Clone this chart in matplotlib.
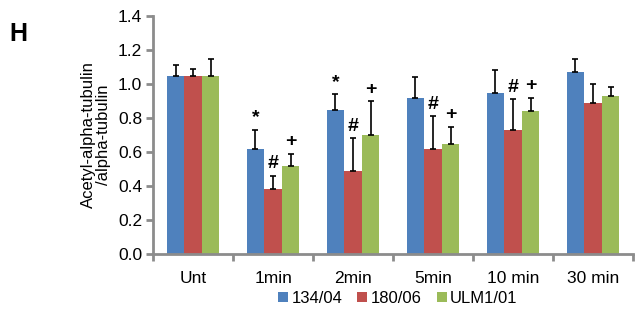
import numpy as np
import matplotlib
matplotlib.use('Agg')
import matplotlib.pyplot as plt

plt.rcParams['font.family'] = ['Liberation Sans', 'DejaVu Sans']

# ─── Data ────────────────────────────────────────────────────────────────────
categories = ['Unt', '1min', '2min', '5min', '10 min', '30 min']
series     = ['134/04', '180/06', 'ULM1/01']

mean_134 = [1.05, 0.62, 0.85, 0.92, 0.95, 1.07]
mean_180 = [1.05, 0.38, 0.49, 0.62, 0.73, 0.89]
mean_ulm = [1.05, 0.52, 0.70, 0.65, 0.84, 0.93]

err_134 = [0.06, 0.11, 0.09, 0.12, 0.13, 0.08]
err_180 = [0.04, 0.08, 0.19, 0.19, 0.18, 0.11]
err_ulm = [0.10, 0.07, 0.20, 0.10, 0.08, 0.05]

# significance marks per group (series 0/1/2)
marks_134 = ['', '*', '*', '', '', '']
marks_180 = ['', '#', '#', '#', '#', '']
marks_ulm = ['', '+', '+', '+', '+', '']

colors = ['#4F81BD', '#C0504D', '#9BBB59']

# ─── Plot ─────────────────────────────────────────────────────────────────────
fig = plt.figure(figsize=(6.38, 3.2), dpi=100)
ax = fig.add_axes([0.240, 0.206, 0.752, 0.744])

x = np.arange(len(categories))
w = 0.22
means = [mean_134, mean_180, mean_ulm]
errs = [err_134, err_180, err_ulm]
marks = [marks_134, marks_180, marks_ulm]

for k in range(3):
    xs = x + (k - 1) * w
    ax.bar(xs, means[k], width=w, color=colors[k], label=series[k], zorder=2)
    ax.errorbar(xs, means[k], yerr=[np.zeros(len(x)), errs[k]], fmt='none',
                ecolor='black', elinewidth=1.2, capsize=2.5, capthick=1.2, zorder=3)
    for i in range(len(x)):
        if marks[k][i]:
            ax.text(xs[i], means[k][i] + errs[k][i] + 0.02, marks[k][i],
                    ha='center', va='bottom', fontsize=14, fontweight='bold',
                    color='black')

ax.set_xlim(-0.5, len(categories) - 0.5)
ax.set_ylim(0, 1.4)
ax.set_yticks(np.arange(0, 1.41, 0.2))
ax.set_yticklabels([f'{v:.1f}' for v in np.arange(0, 1.41, 0.2)])
ax.set_xticks(x)
ax.set_xticklabels(categories)
ax.set_xticks(np.arange(-0.5, len(categories)), minor=True)

gray = '#8C8C8C'
for s in ['top', 'right']:
    ax.spines[s].set_visible(False)
for s in ['left', 'bottom']:
    ax.spines[s].set_color(gray)
    ax.spines[s].set_linewidth(2)
ax.tick_params(axis='y', colors=gray, width=2, length=5, labelcolor='black',
               labelsize=12.5, pad=3)
ax.tick_params(axis='x', which='major', length=0, labelsize=12.5, pad=12)
ax.tick_params(axis='x', which='minor', colors=gray, width=2, length=5)

ax.set_ylabel('Acetyl-alpha-tubulin\n/alpha-tubulin', fontsize=12, labelpad=5,
              linespacing=1.0)

fig.text(0.015, 0.895, 'H', fontsize=18, fontweight='bold', va='center')

ax.legend(loc='upper center', bbox_to_anchor=(0.51, -0.12), ncol=3, frameon=False,
          fontsize=12, handlelength=0.6, handleheight=0.6, handletextpad=0.2,
          columnspacing=0.9, borderpad=0)

fig.savefig('out.png', dpi=100)
